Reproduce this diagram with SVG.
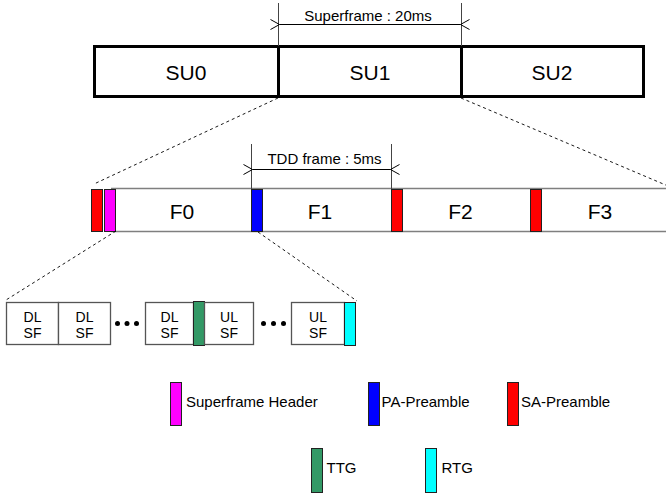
<svg xmlns="http://www.w3.org/2000/svg" width="666" height="497" viewBox="0 0 666 497">
<style>
text{font-family:"Liberation Sans",Arial,sans-serif;fill:#000}
.big{font-size:21px;text-anchor:middle}
.dim{font-size:15px;text-anchor:middle}
.sf{font-size:14px;text-anchor:middle}
.leg{font-size:15px}
.su{fill:#fff;stroke:#000;stroke-width:3}
.bar{fill:none;stroke:#7f7f7f;stroke-width:1.5}
.blk{stroke:#222;stroke-width:1}
.sub{fill:#fff;stroke:#555;stroke-width:1.3}
.dash{fill:none;stroke:#000;stroke-width:0.9;stroke-dasharray:3,3}
.ext{stroke:#444;stroke-width:1}
.arr{stroke:#000;stroke-width:1;marker-start:url(#ah);marker-end:url(#ah)}
</style>
<defs>
<marker id="ah" viewBox="-1 -6 12 12" refX="0" refY="0" markerWidth="12" markerHeight="12" markerUnits="userSpaceOnUse" orient="auto-start-reverse">
<path d="M9,-5 L0,0 L9,5" fill="none" stroke="#000" stroke-width="1"/>
</marker>
</defs>

<g id="superframe-row">
<g id="SU0"><rect class="su" x="94.5" y="46.5" width="184" height="50"/><text class="big" x="186" y="80">SU0</text></g>
<g id="SU1"><rect class="su" x="278.5" y="46.5" width="183" height="50"/><text class="big" x="370" y="80">SU1</text></g>
<g id="SU2"><rect class="su" x="461.5" y="46.5" width="182" height="50"/><text class="big" x="552" y="80">SU2</text></g>
</g>

<g id="frame-row">
<path class="bar" d="M111,188.5 H668 M111,231.5 H668"/>
<g id="F0"><text class="big" x="182" y="219">F0</text></g>
<g id="F1"><text class="big" x="320" y="219">F1</text></g>
<g id="F2"><text class="big" x="460.5" y="219">F2</text></g>
<g id="F3"><text class="big" x="600" y="219">F3</text></g>
<rect class="blk" x="91.5" y="189.5" width="11" height="42" fill="#f00"/>
<rect class="blk" x="104.5" y="189.5" width="11" height="42" fill="#f0f"/>
<rect class="blk" x="251.5" y="189.5" width="11" height="42" fill="#00f"/>
<rect class="blk" x="391.5" y="189.5" width="11" height="42" fill="#f00"/>
<rect class="blk" x="530.5" y="189.5" width="11" height="42" fill="#f00"/>
</g>

<g id="subframe-row">
<g id="DL1"><rect class="sub" x="6.5" y="302.5" width="52" height="42"/><text class="sf" x="32.5" y="322">DL</text><text class="sf" x="32.5" y="338">SF</text></g>
<g id="DL2"><rect class="sub" x="58.5" y="302.5" width="52" height="42"/><text class="sf" x="84.5" y="322">DL</text><text class="sf" x="84.5" y="338">SF</text></g>
<g id="dots1" fill="#000"><circle cx="117.5" cy="323.5" r="2.5"/><circle cx="127" cy="323.5" r="2.5"/><circle cx="136.5" cy="323.5" r="2.5"/></g>
<g id="DL3"><rect class="sub" x="145.5" y="302.5" width="48" height="42"/><text class="sf" x="169.5" y="322">DL</text><text class="sf" x="169.5" y="338">SF</text></g>
<g id="TTG-block"><rect class="blk" x="193.5" y="301.5" width="11" height="44" fill="#339966"/></g>
<g id="UL1"><rect class="sub" x="204.5" y="302.5" width="49" height="42"/><text class="sf" x="229" y="322">UL</text><text class="sf" x="229" y="338">SF</text></g>
<g id="dots2" fill="#000"><circle cx="263.5" cy="323.5" r="2.5"/><circle cx="273.5" cy="323.5" r="2.5"/><circle cx="283.5" cy="323.5" r="2.5"/></g>
<g id="UL2"><rect class="sub" x="291.5" y="302.5" width="53" height="42"/><text class="sf" x="318" y="322">UL</text><text class="sf" x="318" y="338">SF</text></g>
<g id="RTG-block"><rect class="blk" x="344.5" y="302.5" width="11" height="43" fill="#0ff"/></g>
</g>

<g id="connectors">
<line class="ext" x1="278.5" y1="3" x2="278.5" y2="46"/>
<line class="ext" x1="461.5" y1="3" x2="461.5" y2="46"/>
<line class="arr" x1="279.5" y1="24.5" x2="460.5" y2="24.5"/>
<line class="ext" x1="251.5" y1="144" x2="251.5" y2="189"/>
<line class="ext" x1="391.5" y1="144" x2="391.5" y2="189"/>
<line class="arr" x1="252.5" y1="169.5" x2="390.5" y2="169.5"/>
<path class="dash" d="M278,98 L94,184"/>
<path class="dash" d="M461,98 L668,186"/>
<path class="dash" d="M116,231 L6,300"/>
<path class="dash" d="M258,232 L357,301"/>
</g>

<g id="labels">
<text class="dim" x="368" y="21">Superframe : 20ms</text>
<text class="dim" x="324.5" y="164">TDD frame : 5ms</text>
</g>

<g id="legend">
<g id="leg-sfh"><rect class="blk" x="170.5" y="382.5" width="11" height="43" fill="#f0f"/><text class="leg" x="186" y="407">Superframe Header</text></g>
<g id="leg-pa"><rect class="blk" x="368.5" y="382.5" width="11" height="43" fill="#00f"/><text class="leg" x="381.5" y="407">PA-Preamble</text></g>
<g id="leg-sa"><rect class="blk" x="507.5" y="382.5" width="11" height="43" fill="#f00"/><text class="leg" x="521" y="407">SA-Preamble</text></g>
<g id="leg-ttg"><rect class="blk" x="311.5" y="448.5" width="11" height="44" fill="#339966"/><text class="leg" x="326.5" y="473">TTG</text></g>
<g id="leg-rtg"><rect class="blk" x="425.5" y="448.5" width="11" height="44" fill="#0ff"/><text class="leg" x="441.5" y="473">RTG</text></g>
</g>
</svg>
